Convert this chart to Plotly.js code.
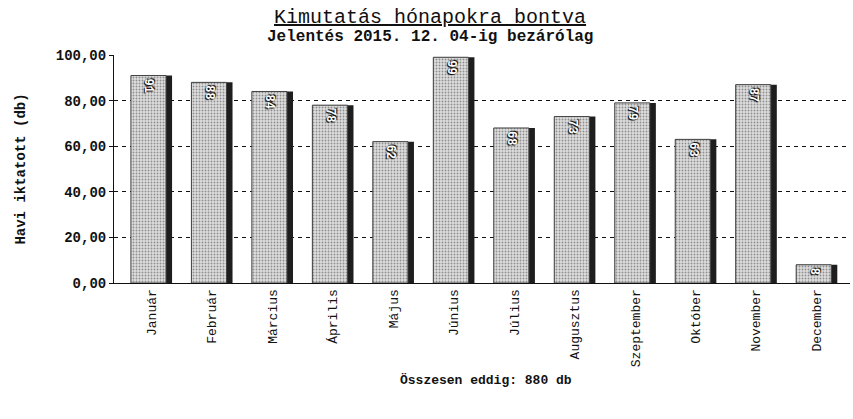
<!DOCTYPE html>
<html>
<head>
<meta charset="utf-8">
<script src="https://cdn.plot.ly/plotly-3.0.1.min.js"></script>
<style>
  body { margin: 0; background: #fff; }
  #chart { width: 853px; height: 419px; }
</style>
</head>
<body>
<div id="chart"></div>
<script>
// Havi iktatott darabszámok 2015-ben
var months = ["Január", "Február", "Március", "Április", "Május", "Június",
  "Július", "Augusztus", "Szeptember", "Október", "November", "December"];
var counts = [91, 88, 84, 78, 62, 99, 68, 73, 79, 63, 87, 8];

var total = counts.reduce(function (a, b) { return a + b; }, 0);

// dark right edge ("shadow") drawn under the light bar
var shadow = {
  x: months,
  y: counts,
  type: 'bar',
  width: 0.68,
  offset: -0.34,
  marker: { color: '#1e1e1e', line: { width: 0 } },
  hoverinfo: 'skip'
};

var bars = {
  x: months,
  y: counts,
  type: 'bar',
  width: 0.58,
  offset: -0.34,
  text: counts.map(String),
  textposition: 'inside',
  insidetextanchor: 'end',
  textangle: 90,
  constraintext: 'none',
  textfont: { family: 'Liberation Mono', size: 12, color: '#ffffff', weight: 'bold',
    shadow: '1px 1px 1px #000, -1px -1px 1px #000' },
  marker: {
    color: '#cccccc',
    line: { color: '#444', width: 1 },
    pattern: { shape: '.', bgcolor: '#dedede', fgcolor: '#8e8e8e', size: 3, solidity: 0.3 }
  }
};

var layout = {
  width: 853,
  height: 419,
  margin: { l: 114, r: 3, t: 55, b: 136 },
  paper_bgcolor: '#ffffff',
  plot_bgcolor: '#ffffff',
  barmode: 'overlay',
  showlegend: false,
  separators: ', ',
  font: { family: 'Liberation Mono', color: '#111' },
  xaxis: {
    type: 'category',
    range: [-0.62, 11.55],
    tickangle: -90,
    tickfont: { family: 'Liberation Mono', size: 13, color: '#111' },
    showline: true,
    linecolor: '#111',
    linewidth: 1,
    showgrid: false,
    ticks: '',
    zeroline: false
  },
  yaxis: {
    range: [0, 100],
    dtick: 20,
    tickformat: '.2f',
    tickfont: { family: 'Liberation Mono', size: 14, color: '#111', weight: 'bold' },
    ticks: 'outside',
    ticklen: 4,
    tickcolor: '#111',
    showline: true,
    linecolor: '#111',
    linewidth: 1,
    showgrid: true,
    gridcolor: '#111',
    gridwidth: 1,
    griddash: '4px,4px',
    zeroline: false,
    title: {
      text: '<b>Havi iktatott (db)</b>',
      font: { family: 'Liberation Mono', size: 14, color: '#111' },
      standoff: 26
    }
  },
  annotations: [
    {
      text: '<u>Kimutatás hónapokra bontva</u>',
      xref: 'paper', yref: 'paper',
      x: 0.43, y: 1.0,
      yshift: 38,
      xanchor: 'center', yanchor: 'middle',
      showarrow: false,
      font: { family: 'Liberation Mono', size: 20, color: '#111' }
    },
    {
      text: '<b>Jelentés 2015. 12. 04-ig bezárólag</b>',
      xref: 'paper', yref: 'paper',
      x: 0.43, y: 1.0,
      yshift: 18,
      xanchor: 'center', yanchor: 'middle',
      showarrow: false,
      font: { family: 'Liberation Mono', size: 16, color: '#111' }
    },
    {
      text: '<b>Összesen eddig: ' + total + ' db</b>',
      xref: 'paper', yref: 'paper',
      x: 0.505, y: -0.425,
      xanchor: 'center', yanchor: 'middle',
      showarrow: false,
      font: { family: 'Liberation Mono', size: 13, color: '#111' }
    }
  ]
};

Plotly.newPlot('chart', [shadow, bars], layout, { staticPlot: true, responsive: false });
</script>
</body>
</html>
